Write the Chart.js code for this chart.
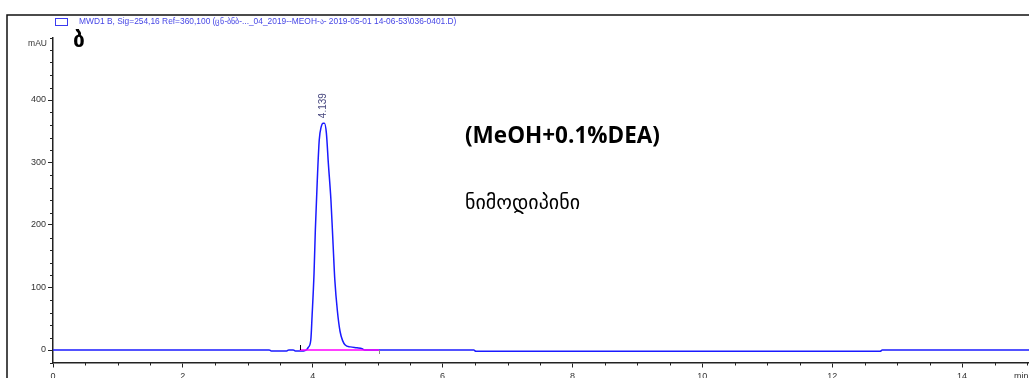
<!DOCTYPE html>
<html>
<head>
<meta charset="utf-8">
<script src="https://cdn.jsdelivr.net/npm/chart.js@4.4.0/dist/chart.umd.min.js"></script>
<style>
html, body { margin: 0; padding: 0; background: #fff; overflow: hidden; }
</style>
</head>
<body>
<canvas id="chrom" width="1029" height="378"></canvas>
<script>
// retention time (min) and signal (mAU)
var times = [0, 3.33, 3.36, 3.60, 3.63, 3.70, 3.73, 3.86, 3.90, 3.93, 3.97, 3.99, 4.02, 4.04, 4.07, 4.10, 4.13, 4.16, 4.18, 4.21, 4.24, 4.28, 4.31, 4.34, 4.38, 4.42, 4.46, 4.50, 4.58, 4.68, 4.76, 4.80, 6.48, 6.51, 12.74, 12.77, 15.03];
var absorbance = [0, 0, -1.5, -1.5, 0, 0, -1.5, -1.5, 0, 4, 16, 55, 123, 192, 272, 336, 357, 363, 363, 347, 299, 240, 176, 112, 62, 30, 15, 8, 5, 3.5, 2, 0, 0, -2, -2, 0, 0];
// integration baseline start / end
var baseTimes = [3.80, 5.02];
var baseValues = [0, 0];

var xTickValues = [0, 2, 4, 6, 8, 10, 12, 14];
var yTickValues = [0, 100, 200, 300, 400];

var peakText = '4.139';
var headerText = 'MWD1 B, Sig=254,16 Ref=360,100 (ცნ-ბნბ-..._04_2019--MEOH-ა- 2019-05-01 14-06-53\\036-0401.D)';
var panelLetter = 'ბ';
var sampleTitle = '(MeOH+0.1%DEA)';
var compoundName = 'ნიმოდიპინი';

function toPoints(xs, ys) {
	var pts = [];
	for (var i = 0; i < xs.length; i++) pts.push({ x: xs[i], y: ys[i] });
	return pts;
}

var axisFont = { family: 'Liberation Sans, Arial, sans-serif', size: 9 };

var extras = {
	id: 'extras',
	afterDraw: function (chart) {
		var ctx = chart.ctx;
		var xs = chart.scales.x, ys = chart.scales.y;
		var area = chart.chartArea;
		ctx.save();

		// frame
		ctx.strokeStyle = '#111';
		ctx.lineWidth = 1.5;
		ctx.beginPath();
		ctx.moveTo(7, 378);
		ctx.lineTo(7, 15);
		ctx.lineTo(1029, 15);
		ctx.stroke();

		// minor ticks
		ctx.strokeStyle = '#222';
		ctx.lineWidth = 1;
		ctx.beginPath();
		for (var v = -20; v <= 500; v += 20) {
			if (yTickValues.indexOf(v) >= 0) continue;
			var py = Math.round(ys.getPixelForValue(v)) + 0.5;
			ctx.moveTo(area.left - 3, py);
			ctx.lineTo(area.left, py);
		}
		for (var t = 0.5; t <= 15; t += 0.5) {
			if (xTickValues.indexOf(t) >= 0) continue;
			var px = Math.round(xs.getPixelForValue(t)) + 0.5;
			ctx.moveTo(px, area.bottom);
			ctx.lineTo(px, area.bottom + 3);
		}
		ctx.stroke();

		// baseline start/end marks
		var b0 = xs.getPixelForValue(baseTimes[0]);
		var b1 = xs.getPixelForValue(baseTimes[1]);
		var by = ys.getPixelForValue(baseValues[0]);
		ctx.strokeStyle = '#000';
		ctx.beginPath();
		ctx.moveTo(Math.round(b0) + 0.5, by - 5);
		ctx.lineTo(Math.round(b0) + 0.5, by);
		ctx.stroke();
		ctx.strokeStyle = '#888';
		ctx.beginPath();
		ctx.moveTo(Math.round(b1) + 0.5, by);
		ctx.lineTo(Math.round(b1) + 0.5, by + 4);
		ctx.stroke();

		// axis units
		ctx.fillStyle = '#333';
		ctx.font = '8.5px Liberation Sans, Arial, sans-serif';
		ctx.textAlign = 'right';
		ctx.textBaseline = 'middle';
		ctx.fillText('mAU', area.left - 6, 44);
		ctx.textAlign = 'left';
		ctx.textBaseline = 'top';
		ctx.font = '9px Liberation Sans, Arial, sans-serif';
		ctx.fillText('min', 1014, 372);

		// header / legend
		ctx.strokeStyle = '#3b3bf0';
		ctx.lineWidth = 1;
		ctx.strokeRect(55.5, 18.5, 12, 7);
		ctx.fillStyle = '#4646e6';
		ctx.font = '8.4px Liberation Sans, Arial, sans-serif';
		ctx.textBaseline = 'middle';
		ctx.fillText(headerText, 79, 22);

		// peak label
		var imax = 0;
		for (var i = 1; i < absorbance.length; i++) if (absorbance[i] > absorbance[imax]) imax = i;
		var lx = xs.getPixelForValue(times[imax]);
		var ly = ys.getPixelForValue(absorbance[imax]);
		ctx.translate(lx, ly - 5);
		ctx.rotate(-Math.PI / 2);
		ctx.fillStyle = '#4a4a80';
		ctx.font = '10px Liberation Sans, Arial, sans-serif';
		ctx.textAlign = 'left';
		ctx.fillText(peakText, 0, 0);
		ctx.setTransform(1, 0, 0, 1, 0, 0);

		// annotations
		ctx.fillStyle = '#000';
		ctx.textAlign = 'left';
		ctx.textBaseline = 'middle';
		ctx.font = 'bold 21px DejaVu Sans, sans-serif';
		ctx.fillText(panelLetter, 73, 42);
		ctx.font = 'bold 22.5px Open Sans, DejaVu Sans, sans-serif';
		ctx.fillText(sampleTitle, 465, 137);
		ctx.font = '20px DejaVu Sans, sans-serif';
		ctx.fillText(compoundName, 465, 204);
		ctx.restore();
	}
};

var ctx = document.getElementById('chrom').getContext('2d');
var chart = new Chart(ctx, {
	type: 'line',
	data: {
		datasets: [{
			data: toPoints(baseTimes, baseValues),
			borderColor: '#ff00ff',
			borderWidth: 1.5,
			pointRadius: 0
		}, {
			data: toPoints(times, absorbance),
			borderColor: '#1a1aff',
			borderWidth: 1.5,
			pointRadius: 0,
			cubicInterpolationMode: 'monotone'
		}]
	},
	options: {
		responsive: false,
		animation: false,
		devicePixelRatio: 1,
		layout: { padding: { left: 0, top: 37.5, right: 0, bottom: 0 } },
		plugins: { legend: { display: false }, tooltip: { enabled: false } },
		scales: {
			x: {
				type: 'linear',
				min: 0,
				max: 15.03,
				afterFit: function (s) { s.height = 15.5; },
				afterBuildTicks: function (s) { s.ticks = xTickValues.map(function (v) { return { value: v }; }); },
				border: { display: true, color: '#222', width: 1.5 },
				grid: { drawOnChartArea: false, drawTicks: true, tickLength: 5, tickColor: '#222' },
				ticks: { font: axisFont, color: '#333', padding: 4, maxRotation: 0 }
			},
			y: {
				min: -20,
				max: 500,
				afterFit: function (s) { s.width = 53; },
				afterBuildTicks: function (s) { s.ticks = yTickValues.map(function (v) { return { value: v }; }); },
				border: { display: true, color: '#222', width: 1.5 },
				grid: { drawOnChartArea: false, drawTicks: true, tickLength: 5, tickColor: '#222' },
				ticks: { font: axisFont, color: '#333', padding: 2 }
			}
		}
	},
	plugins: [extras]
});
</script>
</body>
</html>
